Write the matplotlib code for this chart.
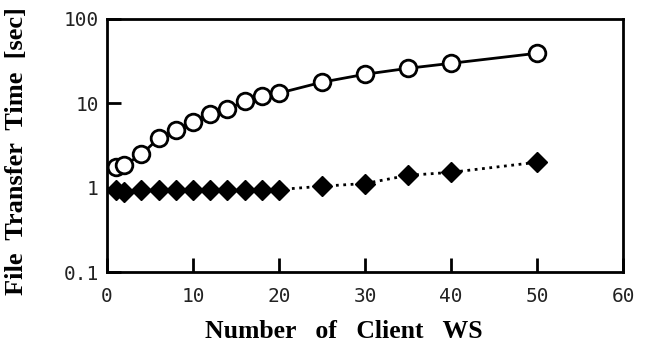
import matplotlib
matplotlib.use('Agg')
import matplotlib.pyplot as plt

# client counts and transfer times
clients_a = [1, 2, 4, 6, 8, 10, 12, 14, 16, 18, 20, 25, 30, 35, 40, 50]
time_a = [1.74, 1.84, 2.48, 3.85, 4.8, 5.95, 7.4, 8.5, 10.6, 12.1, 13.2,
          17.8, 22.1, 26.0, 29.8, 39.2]

clients_b = [1, 2, 4, 6, 8, 10, 12, 14, 16, 18, 20, 25, 30, 35, 40, 50]
time_b = [0.95, 0.9, 0.95, 0.95, 0.95, 0.95, 0.95, 0.95, 0.95, 0.95, 0.95,
          1.04, 1.12, 1.4, 1.52, 2.0]

x_ticks = [0, 10, 20, 30, 40, 50, 60]
y_ticks = [0.1, 1, 10, 100]
y_labels = ['0.1', '1', '10', '100']

fig = plt.figure(figsize=(6.47, 3.51), dpi=100)
ax = fig.add_axes([0.1654, 0.225, 0.7976, 0.721])

ax.plot(clients_a, time_a, '-', color='black', linewidth=2,
        marker='o', markersize=12, markerfacecolor='white',
        markeredgecolor='black', markeredgewidth=2)
ax.plot(clients_b, time_b, ':', color='black', linewidth=2,
        marker='D', markersize=10, markerfacecolor='black',
        markeredgecolor='black')

ax.set_yscale('log')
ax.set_xlim(0, 60)
ax.set_ylim(0.1, 100)
ax.set_xticks(x_ticks)
ax.set_yticks(y_ticks)
ax.set_yticklabels(y_labels)
ax.minorticks_off()

for s in ax.spines.values():
    s.set_linewidth(2)
ax.tick_params(direction='in', length=10, width=2, labelsize=14)
ax.tick_params(axis='y', pad=6)
ax.tick_params(axis='x', pad=11)
for lab in ax.get_xticklabels() + ax.get_yticklabels():
    lab.set_family('DejaVu Sans Mono')
    lab.set_color('#222222')

ax.set_xlabel('Number   of   Client   WS', fontsize=18.5, fontweight='bold',
              family='Liberation Serif', labelpad=10)
ax.xaxis.label.set_x(0.459)
ax.set_ylabel('File  Transfer  Time  [sec]', fontsize=19,
              fontweight='bold', family='Liberation Serif')
ax.yaxis.set_label_coords(-0.153, 0.478)

fig.savefig('out.png', dpi=100)
